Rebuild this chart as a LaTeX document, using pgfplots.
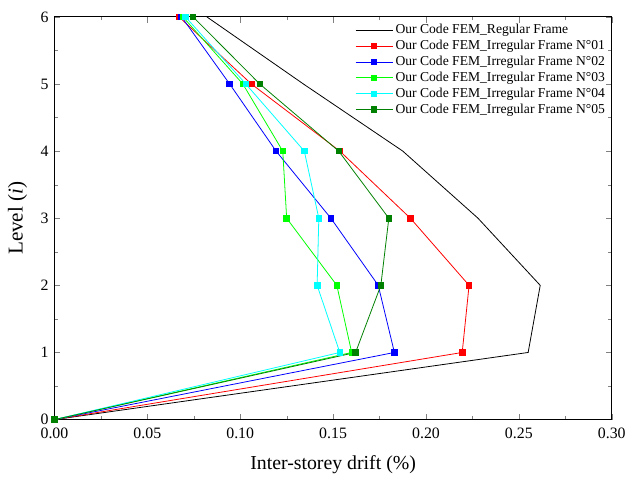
\documentclass[border=0pt]{standalone}
\usepackage{fontspec}
\setmainfont{Liberation Serif}
\usepackage{pgfplots}
\pgfplotsset{compat=1.18}
\definecolor{dgreen}{RGB}{0,128,0}
\definecolor{lgreen}{RGB}{0,255,0}
\definecolor{cyanc}{RGB}{0,255,255}
\begin{document}
\begin{tikzpicture}
\begin{axis}[
  scale only axis,
  width=422pt, height=305pt,
  xmin=0, xmax=0.30, ymin=0, ymax=6,
  xtick={0,0.05,...,0.30},
  ytick={0,1,...,6},
  minor x tick num=1, minor y tick num=1,
  tick align=inside,
  major tick length=4.5pt, minor tick length=2.5pt,
  /pgf/number format/assume math mode=true,
  xticklabel={\pgfmathprintnumber[fixed, fixed zerofill, precision=2]{\tick}},
  yticklabel={\pgfmathprintnumber{\tick}},
  xticklabel style={yshift=-3pt},
  tick label style={font=\fontsize{12}{14}\selectfont},
  yticklabel style={xshift=-1pt},
  xlabel={Inter-storey drift (\%)},
  ylabel={Level (\textit{i})},
  xlabel style={font=\fontsize{15}{17}\selectfont, at={(0.5,0)}, anchor=center, yshift=-34pt},
  every axis y label/.style={at={(rel axis cs:0,0.5)}, xshift=-28pt, anchor=center, rotate=90,
    font=\fontsize{16}{18}\selectfont},
  axis line style={line width=0.8pt},
  legend cell align=left,
  legend style={at={(0.532,0.995)}, anchor=north west, draw=none, fill=none,
    font=\fontsize{10.3}{12}\selectfont, row sep=-0.6pt},
  legend image code/.code={\draw[mark repeat=2,mark phase=2] plot coordinates {(0pt,0pt) (14pt,0pt) (28pt,0pt)};},
  every axis plot/.append style={line width=0.6pt, mark=square*, mark size=2.1pt},
]
\coordinate (SW) at (rel axis cs:0,0);
\coordinate (NE) at (rel axis cs:1,1);
\addplot[black, mark=none] coordinates {(0,0)(0.255,1)(0.2615,2)(0.228,3)(0.1875,4)(0.134,5)(0.082,6)};
\addlegendentry{Our Code FEM\_Regular Frame}
\addplot[red] coordinates {(0,0)(0.2195,1)(0.2232,2)(0.1916,3)(0.1536,4)(0.106,5)(0.067,6)};
\addlegendentry{Our Code FEM\_Irregular Frame N°01}
\addplot[blue] coordinates {(0,0)(0.183,1)(0.1743,2)(0.1488,3)(0.1193,4)(0.0943,5)(0.0684,6)};
\addlegendentry{Our Code FEM\_Irregular Frame N°02}
\addplot[lgreen] coordinates {(0,0)(0.160,1)(0.152,2)(0.125,3)(0.1229,4)(0.1014,5)(0.0691,6)};
\addlegendentry{Our Code FEM\_Irregular Frame N°03}
\addplot[cyanc] coordinates {(0,0)(0.1536,1)(0.1414,2)(0.1423,3)(0.1345,4)(0.103,5)(0.0705,6)};
\addlegendentry{Our Code FEM\_Irregular Frame N°04}
\addplot[dgreen] coordinates {(0,0)(0.1621,1)(0.1757,2)(0.180,3)(0.153,4)(0.1105,5)(0.0746,6)};
\addlegendentry{Our Code FEM\_Irregular Frame N°05}
\end{axis}
\path ([shift={(-41.25pt,-46.5pt)}]SW) rectangle ([shift={(10.5pt,12.75pt)}]NE);
\end{tikzpicture}
\end{document}
